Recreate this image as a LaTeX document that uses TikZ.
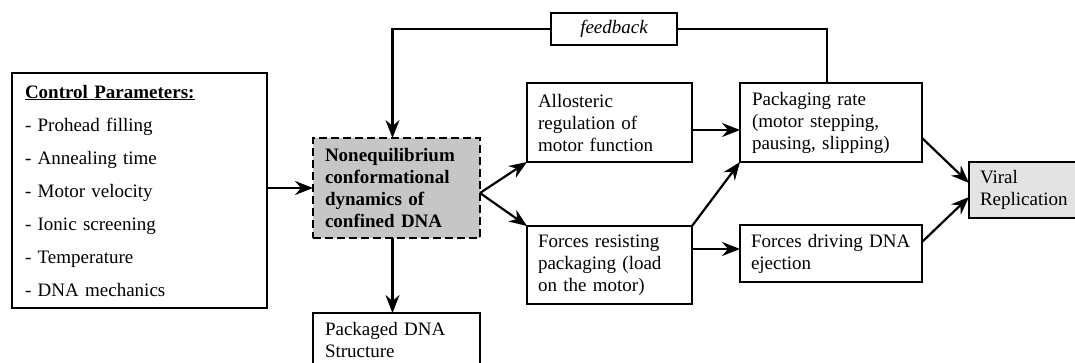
\documentclass[tikz,border=0pt]{standalone}
\usepackage{fontspec}
\setmainfont{Liberation Serif}
\usetikzlibrary{arrows.meta,calc}
\begin{document}
\begin{tikzpicture}[x=1pt,y=-1pt,
  box/.style={draw, line width=2pt, rectangle, anchor=north west, align=left,
    font=\fontsize{19}{22}\selectfont, inner ysep=0pt, outer sep=0pt},
  conn/.style={line width=2.2pt, -{Stealth[length=18pt,width=14pt,inset=6pt]}},
  plainline/.style={line width=2.2pt}]
\useasboundingbox (0,0) rectangle (1075,362);

\node[box, minimum width=255pt, minimum height=235pt, text width=229pt, inner xsep=13pt] (ctrl) at (12,73)
  {\textbf{\underline{Control Parameters:}}\\[11pt]
   - Prohead filling\\[11pt]
   - Annealing time\\[11pt]
   - Motor velocity\\[11pt]
   - Ionic screening\\[11pt]
   - Temperature\\[11pt]
   - DNA mechanics};

\node[box, dashed, dash pattern=on 8pt off 4pt, fill=gray!45, minimum width=167pt, minimum height=100pt, text width=143pt, inner xsep=12pt] (noneq) at (313,138)
  {\bfseries Nonequilibrium\\conformational\\dynamics of\\confined DNA};

\node[box, minimum width=165pt, minimum height=79pt, text width=143pt, inner xsep=11pt] (allo) at (527,83)
  {Allosteric\\regulation of\\motor function};

\node[box, minimum width=182pt, minimum height=79pt, text width=158pt, inner xsep=12pt] (pack) at (740,83)
  {Packaging rate\\(motor stepping,\\pausing, slipping)};

\node[box, minimum width=165pt, minimum height=78pt, text width=143pt, inner xsep=11pt] (res) at (527,226)
  {Forces resisting\\packaging (load\\on the motor)};

\node[box, minimum width=182pt, minimum height=57pt, text width=160pt, inner xsep=11pt] (drive) at (740,225)
  {Forces driving DNA\\ejection};

\node[box, fill=gray!22, minimum width=116pt, minimum height=56pt, text width=94pt, inner xsep=11pt] (viral) at (969,162)
  {Viral\\Replication};

\node[box, minimum width=167pt, minimum height=53pt, text width=143pt, inner xsep=12pt] (pkg) at (313,313)
  {Packaged DNA\\Structure};

\node[box, anchor=center, align=center, line width=1.2pt, minimum width=126pt, minimum height=32pt, font=\fontsize{19}{22}\selectfont\itshape] (fb) at (614,29) {feedback};

% connectors
\draw[conn] (ctrl.east |- noneq.west) -- (noneq.west);
\coordinate (split) at ($(noneq.east)+(0,5)$);
\draw[conn] (split) -- (allo.south west);
\draw[conn] (split) -- (res.north west);
\draw[conn] ($(allo.east)+(0,7.5)$) -- ($(pack.west)+(0,7.5)$);
\draw[conn] ($(res.east)+(0,-16)$) -- ($(drive.west)+(0,-4.5)$);
\draw[conn] (res.north east) -- (pack.south west);
\draw[conn] ($(pack.east)+(0,15.5)$) -- ($(viral.west)+(0,-7)$);
\draw[conn] ($(drive.east)+(0,-11.5)$) -- ($(viral.west)+(0,7)$);
\draw[conn] ($(noneq.south)+(-4,0)$) -- ($(pkg.north)+(-4,0)$);
\draw[plainline] ($(pack.north)+(-4,0)$) |- (fb.east);
\draw[conn] (fb.west) -| ($(noneq.north)+(-4,0)$);
\end{tikzpicture}
\end{document}
